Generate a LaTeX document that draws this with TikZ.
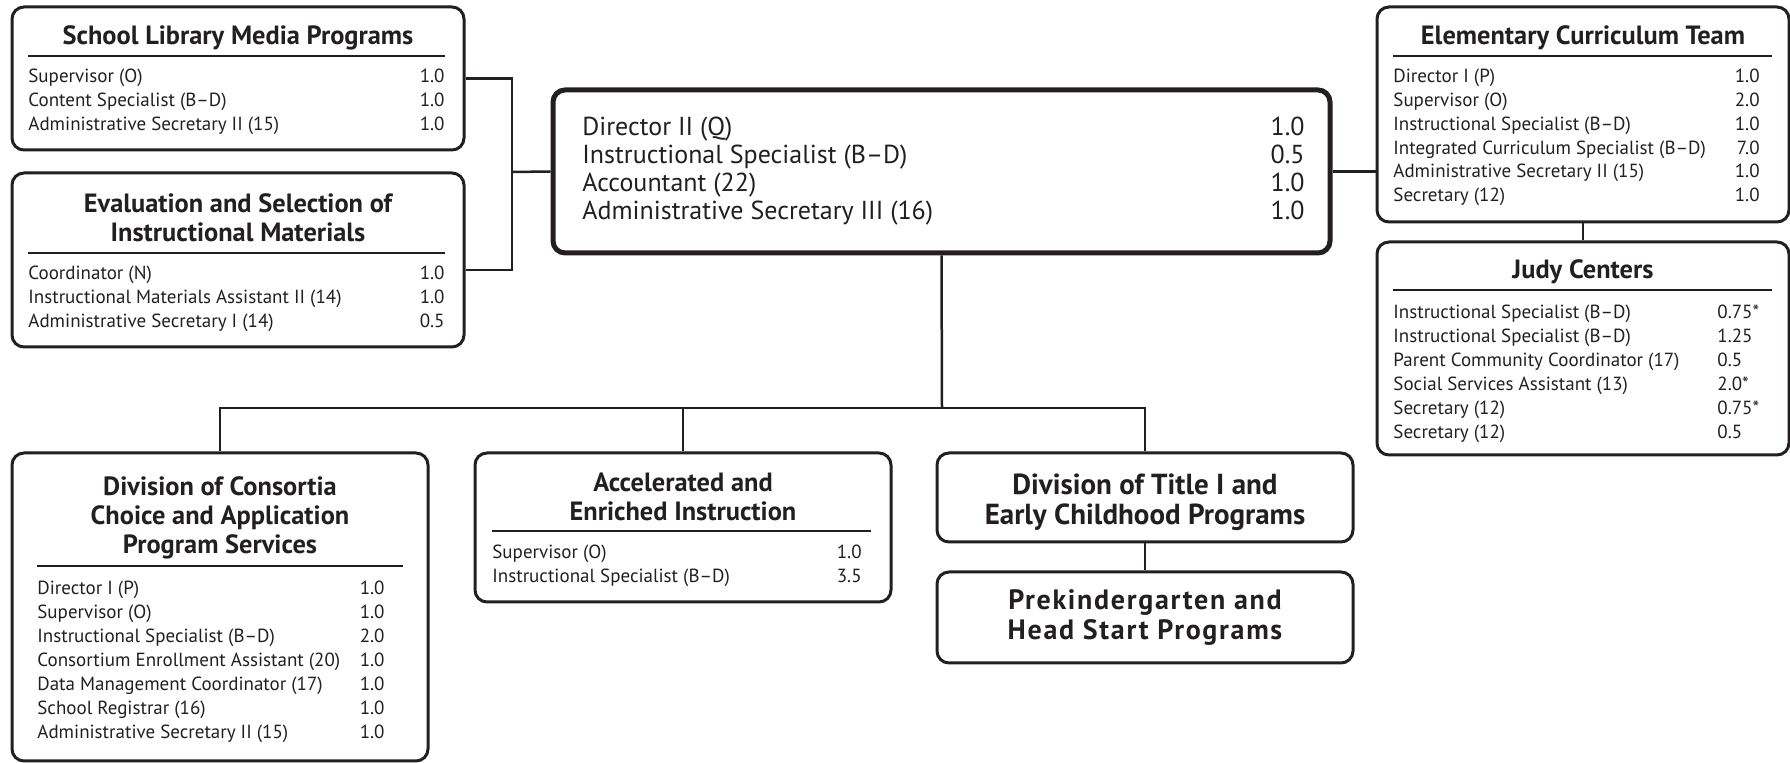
\documentclass[tikz,border=0pt]{standalone}
\usepackage{fontspec}
\setmainfont{PT Sans}
\newfontfamily\spacedfont[LetterSpace=6]{PT Sans}
\usetikzlibrary{positioning,fit}
\definecolor{ink}{HTML}{231F20}

\begin{document}
\begin{tikzpicture}[x=0.5pt, y=-0.5pt]
	\tikzstyle{unit} = [draw=ink, line width=1.5pt, rounded corners=6pt, inner sep=0pt]
	\tikzstyle{chief} = [unit, line width=2.5pt]
	\tikzstyle{head} = [text=ink, align=center, inner sep=0pt, font=\bfseries\fontsize{13.2}{14.4}\selectfont]
	\tikzstyle{bighead} = [head, font=\bfseries\fontsize{14.5}{15}\selectfont]
	\tikzstyle{post} = [text=ink, anchor=west, inner sep=0pt, text height=7pt, text depth=2.2pt, font=\fontsize{9.5}{11}\selectfont]
	\tikzstyle{fte} = [post, anchor=east]
	\tikzstyle{bigpost} = [post, text height=9.5pt, text depth=3pt, font=\fontsize{13}{15}\selectfont]
	\tikzstyle{titlerule} = [draw=ink, line width=0.7pt]
	\tikzstyle{link} = [draw=ink, line width=1.25pt]

	\useasboundingbox (0,0) rectangle (1790,763);

	% office of the director
	\node[chief, fit={(553,90) (1330,253)}] (dir) {};
	\foreach \lab/\num [count=\k from 0] in {Director II (Q)/1.0, Instructional Specialist (B–D)/0.5, Accountant (22)/1.0, Administrative Secretary III (16)/1.0} {
		\node[bigpost] (dir-p\k) at (582,{129+28*\k}) {\lab};
		\node[bigpost, anchor=east] (dir-f\k) at (1305,{129+28*\k}) {\num};
	}

	% left column
	\node[unit, fit={(12,7) (464,150)}] (slmp) {};
	\node[head] (slmp-t) at (238,38) {School Library Media Programs};
	\draw[titlerule] (28,56) -- (445,56);
	\foreach \lab/\num [count=\k from 0] in {Supervisor (O)/1.0, Content Specialist (B–D)/1.0, Administrative Secretary II (15)/1.0} {
		\node[post] (slmp-p\k) at (28,{78+24*\k}) {\lab};
		\node[fte] (slmp-f\k) at (445,{78+24*\k}) {\num};
	}

	\node[unit, fit={(12,173) (464,347)}] (eval) {};
	\node[head] (eval-t) at (238,218) {Evaluation and Selection of\\Instructional Materials};
	\draw[titlerule] (28,253) -- (445,253);
	\foreach \lab/\num [count=\k from 0] in {Coordinator (N)/1.0, Instructional Materials Assistant II (14)/1.0, Administrative Secretary I (14)/0.5} {
		\node[post] (eval-p\k) at (28,{275+24*\k}) {\lab};
		\node[fte] (eval-f\k) at (445,{275+24*\k}) {\num};
	}

	% right column
	\node[unit, fit={(1377,7) (1789,222)}] (ect) {};
	\node[head] (ect-t) at (1583,38) {Elementary Curriculum Team};
	\draw[titlerule] (1393,56) -- (1772,56);
	\foreach \lab/\num [count=\k from 0] in {Director I (P)/1.0, Supervisor (O)/2.0, Instructional Specialist (B–D)/1.0, Integrated Curriculum Specialist (B–D)/7.0, Administrative Secretary II (15)/1.0, Secretary (12)/1.0} {
		\node[post] (ect-p\k) at (1393,{78+23.8*\k}) {\lab};
		\node[fte] (ect-f\k) at (1760,{78+23.8*\k}) {\num};
	}

	\node[unit, fit={(1377,242) (1789,455)}] (judy) {};
	\node[head] (judy-t) at (1583,272) {Judy Centers};
	\draw[titlerule] (1393,290) -- (1772,290);
	\foreach \lab/\num [count=\k from 0] in {Instructional Specialist (B–D)/0.75*, Instructional Specialist (B–D)/1.25, Parent Community Coordinator (17)/0.5, Social Services Assistant (13)/2.0*, Secretary (12)/0.75*, Secretary (12)/0.5} {
		\node[post] (judy-p\k) at (1393,{314+24*\k}) {\lab};
		\node[post] (judy-f\k) at (1717,{314+24*\k}) {\num};
	}

	% divisions
	\node[unit, fit={(12,453) (428,761)}] (cons) {};
	\node[head] (cons-t) at (220,518) {Division of Consortia\\Choice and Application\\Program Services};
	\draw[titlerule] (37,566) -- (403,566);
	\foreach \lab/\num [count=\k from 0] in {Director I (P)/1.0, Supervisor (O)/1.0, Instructional Specialist (B–D)/2.0, Consortium Enrollment Assistant (20)/1.0, Data Management Coordinator (17)/1.0, School Registrar (16)/1.0, Administrative Secretary II (15)/1.0} {
		\node[post] (cons-p\k) at (37,{590+24*\k}) {\lab};
		\node[fte] (cons-f\k) at (385,{590+24*\k}) {\num};
	}

	\node[unit, fit={(475,453) (891,602)}] (aei) {};
	\node[head] (aei-t) at (683,497) {Accelerated and\\Enriched Instruction};
	\draw[titlerule] (492,531) -- (871,531);
	\foreach \lab/\num [count=\k from 0] in {Supervisor (O)/1.0, Instructional Specialist (B–D)/3.5} {
		\node[post] (aei-p\k) at (492,{554+24*\k}) {\lab};
		\node[fte] (aei-f\k) at (862,{554+24*\k}) {\num};
	}

	\node[unit, fit={(937,453) (1353,542)}] (tone) {};
	\node[bighead] (tone-t) at (1145,502) {Division of Title I and\\Early Childhood Programs};
	\node[unit, fit={(937,572) (1353,663)}] (prek) {};
	\node[bighead, font=\spacedfont\bfseries\fontsize{14}{15}\selectfont] (prek-t) at (prek.center) {Prekindergarten and\\Head Start Programs};

	% connectors
	\coordinate (lj) at (512,172);
	\coordinate (bus) at (942,408);
	\draw[link] (slmp.east) -| (lj) |- ([yshift=-5pt]eval.east);
	\draw[link] (lj) -- (dir.west);
	\draw[link] (dir.east) -- (dir.east -| ect.west);
	\draw[link] (ect.south) -- (judy.north);
	\draw[link] (dir.south) -- (bus);
	\draw[link] (cons.north) |- (tone.north |- bus) -- (tone.north);
	\draw[link] (aei.north) -- (aei.north |- bus);
	\draw[link] (tone.south) -- (prek.north);
\end{tikzpicture}
\end{document}
